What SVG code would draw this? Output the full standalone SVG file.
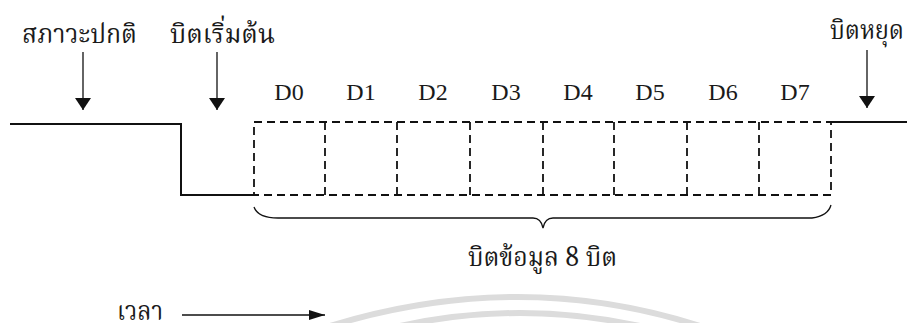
<svg xmlns="http://www.w3.org/2000/svg" width="907" height="323" viewBox="0 0 907 323">
  <style>
    .thai { font-family: "Noto Serif Thai", "Noto Sans Thai Looped", "Norasi", "Noto Sans Thai", "Garuda", "DejaVu Sans", sans-serif; font-size: 27px; fill: #1a1a1a; }
    .bit { font-family: "Liberation Serif", "Times New Roman", serif; font-size: 24px; fill: #1a1a1a; text-anchor: middle; }
    .sig { fill: none; stroke: #111; stroke-width: 2; }
    .cell { fill: none; stroke: #111; stroke-width: 1.8; stroke-dasharray: 8 5; }
    .lead { fill: none; stroke: #111; stroke-width: 1.3; }
    .wm { fill: none; stroke: #dcdcdc; stroke-width: 6; }
  </style>
  <defs>
    <marker id="head" viewBox="0 0 12 16" refX="12" refY="8" markerWidth="12" markerHeight="16" markerUnits="userSpaceOnUse" orient="auto">
      <path d="M0,0 L12,8 L0,16 Z" fill="#111"/>
    </marker>
    <marker id="headSmall" viewBox="0 0 16 10" refX="16" refY="5" markerWidth="16" markerHeight="10" markerUnits="userSpaceOnUse" orient="auto">
      <path d="M0,0 L16,5 L0,10 Z" fill="#111"/>
    </marker>
  </defs>

  <!-- faint background arcs -->
  <g id="backdrop">
    <path class="wm" d="M330,326 Q520,268 700,326"/>
    <path class="wm" d="M400,326 Q520,300 640,326"/>
  </g>

  <!-- idle line, start bit drop, stop bit line -->
  <g id="signal">
    <polyline class="sig" points="10,124 181,124 181,195 254,195"/>
    <line class="sig" x1="831" y1="122" x2="907" y2="122"/>
  </g>

  <!-- eight data bit cells -->
  <g id="data-cells">
    <rect class="cell" x="254" y="122" width="577" height="73"/>
    <line class="cell" x1="325" y1="122" x2="325" y2="195"/>
    <line class="cell" x1="397" y1="122" x2="397" y2="195"/>
    <line class="cell" x1="470" y1="122" x2="470" y2="195"/>
    <line class="cell" x1="543" y1="122" x2="543" y2="195"/>
    <line class="cell" x1="614" y1="122" x2="614" y2="195"/>
    <line class="cell" x1="687" y1="122" x2="687" y2="195"/>
    <line class="cell" x1="759" y1="122" x2="759" y2="195"/>
  </g>

  <g id="bit-labels">
    <text class="bit" x="289" y="100">D0</text>
    <text class="bit" x="361" y="100">D1</text>
    <text class="bit" x="433" y="100">D2</text>
    <text class="bit" x="506" y="100">D3</text>
    <text class="bit" x="578" y="100">D4</text>
    <text class="bit" x="650" y="100">D5</text>
    <text class="bit" x="723" y="100">D6</text>
    <text class="bit" x="795" y="100">D7</text>
  </g>

  <g id="idle-state">
    <text class="thai" x="22" y="43" textLength="115" lengthAdjust="spacingAndGlyphs">สภาวะปกติ</text>
  </g>
  <g id="start-bit">
    <text class="thai" x="170" y="43" textLength="105" lengthAdjust="spacingAndGlyphs">บิตเริ่มต้น</text>
  </g>
  <g id="stop-bit">
    <text class="thai" x="830" y="39" textLength="74" lengthAdjust="spacingAndGlyphs">บิตหยุด</text>
  </g>
  <g id="data-bits">
    <text class="thai" x="468" y="266" textLength="149" lengthAdjust="spacingAndGlyphs">บิตข้อมูล 8 บิต</text>
  </g>
  <g id="time">
    <text class="thai" x="117" y="320" textLength="46" lengthAdjust="spacingAndGlyphs">เวลา</text>
  </g>

  <g id="connectors">
    <line class="lead" x1="83" y1="52" x2="83" y2="110" marker-end="url(#head)"/>
    <line class="lead" x1="217" y1="52" x2="217" y2="110" marker-end="url(#head)"/>
    <line class="lead" x1="867" y1="50" x2="867" y2="108" marker-end="url(#head)"/>
    <line class="lead" x1="182" y1="315" x2="325" y2="315" marker-end="url(#headSmall)"/>
    <path class="lead" d="M254,207 Q258,218 278,218 L533,218 Q541,218 543,228 Q545,218 553,218 L812,218 Q828,216 831,205"/>
  </g>
</svg>
